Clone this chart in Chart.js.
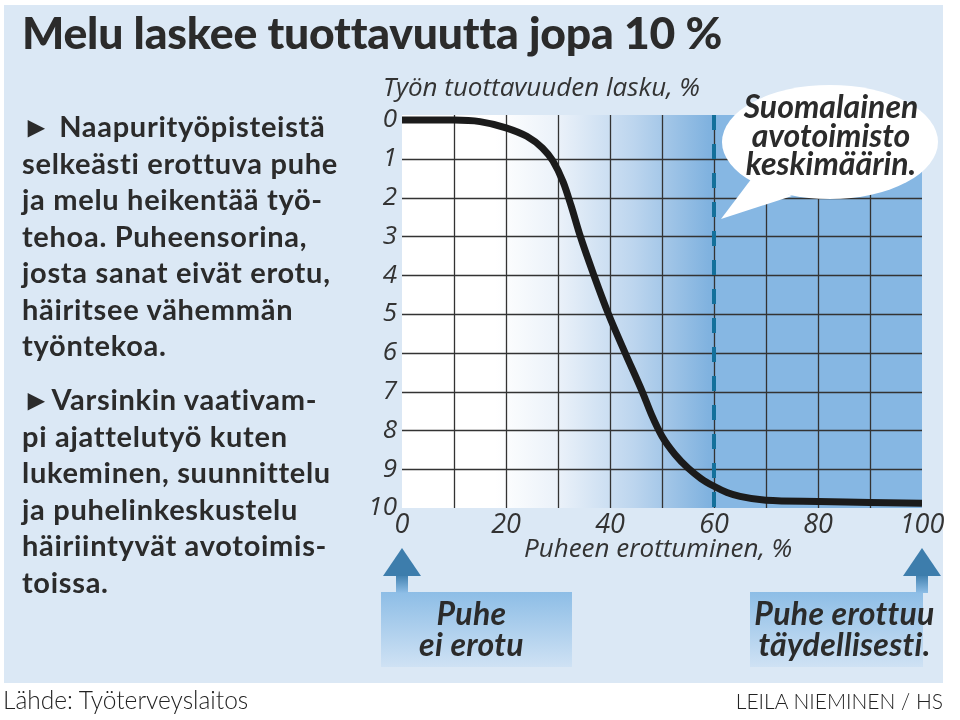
<!DOCTYPE html>
<html>
<head>
<meta charset="utf-8">
<script src="https://cdn.jsdelivr.net/npm/chart.js@4"></script>
<style>
  html, body { margin: 0; padding: 0; background: #fff; }
  #wrap { position: relative; width: 960px; height: 720px; overflow: hidden; font-family: "Lato", sans-serif; color: #2b2b2b; }
  #panel { position: absolute; left: 4px; top: 5px; width: 939px; height: 678px; background: #dbe8f5; }
  #chart { position: absolute; left: 0; top: 0; }
  #deco { position: absolute; left: 0; top: 0; }
  .t { position: absolute; white-space: nowrap; }
  #title { left: 22px; top: 5px; font-size: 44.5px; font-weight: 900; letter-spacing: -0.2px; }
  .body { left: 22px; font-size: 29px; font-weight: 700; line-height: 36.5px; letter-spacing: 0.7px; }
  .axis { font-family: "Open Sans", sans-serif; font-style: italic; font-size: 26px; font-weight: 400; color: #333; }
  .bub { font-size: 32px; font-weight: 700; font-style: italic; text-align: center; line-height: 28.5px; }
  .box { font-size: 32px; font-weight: 700; font-style: italic; text-align: center; line-height: 31px; letter-spacing: 0.3px; }
  .src { font-size: 24.5px; font-weight: 300; color: #222; }
</style>
</head>
<body>
<div id="wrap">
  <div id="panel"></div>
  <canvas id="chart" width="960" height="720"></canvas>
  <svg id="deco" width="960" height="720">
    <defs>
      <linearGradient id="boxGrad" x1="0" y1="0" x2="0" y2="1">
        <stop offset="0" stop-color="#8dbde6"/>
        <stop offset="1" stop-color="#cfe2f4"/>
      </linearGradient>
      <linearGradient id="shaftGrad" x1="0" y1="0" x2="0" y2="1">
        <stop offset="0" stop-color="#3d7dac"/>
        <stop offset="1" stop-color="#8dbde6"/>
      </linearGradient>
    </defs>
    <!-- speech bubble -->
    <path d="M 752 178 L 721 219 L 792 196 Z" fill="#fff"/>
    <ellipse cx="830" cy="142" rx="108" ry="57" fill="#fff"/>
    <!-- arrows and boxes -->
    <rect x="381" y="592" width="191" height="75" fill="url(#boxGrad)"/>
    <rect x="396" y="574" width="12" height="19" fill="url(#shaftGrad)"/>
    <path d="M 402 548 L 421 576 L 383 576 Z" fill="#3d7dac"/>
    <rect x="750" y="592" width="173" height="75" fill="url(#boxGrad)"/>
    <rect x="916" y="574" width="12" height="19" fill="url(#shaftGrad)"/>
    <path d="M 922 548 L 941 576 L 903 576 Z" fill="#3d7dac"/>
  </svg>

  <div class="t" id="title">Melu laskee tuottavuutta jopa 10 %</div>
  <div class="t body" style="top:108px">► Naapurityöpisteistä<br>selkeästi erottuva puhe<br>ja melu heikentää työ-<br>tehoa. Puheensorina,<br>josta sanat eivät erotu,<br>häiritsee vähemmän<br>työntekoa.</div>
  <div class="t body" style="top:381px">►Varsinkin vaativam-<br>pi ajattelutyö kuten<br>lukeminen, suunnittelu<br>ja puhelinkeskustelu<br>häiriintyvät avotoimis-<br>toissa.</div>

  <div class="t axis" style="left:383px; top:68px;">Työn tuottavuuden lasku, %</div>
  <div class="t axis" style="left:524px; top:529px;">Puheen erottuminen, %</div>

  <div class="t bub" style="left:726px; top:92px; width:210px;">Suomalainen<br>avotoimisto<br>keskimäärin.</div>
  <div class="t box" style="left:376px; top:597px; width:191px;">Puhe<br>ei erotu</div>
  <div class="t box" style="left:753px; top:597px; width:183px;">Puhe erottuu<br>täydellisesti.</div>

  <div class="t src" style="left:3px; top:685px;">Lähde: Työterveyslaitos</div>
  <div class="t src" style="right:17px; top:688px; font-size:21px;">LEILA NIEMINEN / HS</div>
</div>

<script>
// speech intelligibility (%) vs. drop in work productivity (%)
var speechPct = [0, 10, 15, 20, 24, 27, 29, 31, 32.5, 34.3, 36.9, 39.7, 42.9, 46.2, 48, 50, 52.5, 55, 57.5, 60, 62.5, 65, 70, 80, 90, 100];
var productivityDrop = [0, 0, 0.04, 0.2, 0.42, 0.72, 1.05, 1.6, 2.2, 3.0, 4.0, 5.0, 6.0, 7.0, 7.6, 8.15, 8.62, 8.97, 9.24, 9.44, 9.6, 9.7, 9.8, 9.83, 9.86, 9.88];
var officeAverage = 60;   // Finnish open office on average
var xTicks = [0, 10, 20, 30, 40, 50, 60, 70, 80, 90, 100];
var yTicks = [0, 1, 2, 3, 4, 5, 6, 7, 8, 9, 10];

var curve = speechPct.map(function (x, i) { return { x: x, y: productivityDrop[i] }; });

var plotBg = {
  id: 'plotBg',
  beforeDatasetsDraw: function (chart) {
    var a = chart.chartArea, xs = chart.scales.x, ctx = chart.ctx;
    var g = ctx.createLinearGradient(xs.getPixelForValue(18), 0, xs.getPixelForValue(59), 0);
    g.addColorStop(0, '#ffffff');
    g.addColorStop(0.3, '#eaf1f9');
    g.addColorStop(0.65, '#bcd5ee');
    g.addColorStop(1, '#80b2df');
    ctx.save();
    ctx.fillStyle = g;
    ctx.fillRect(a.left, a.top, xs.getPixelForValue(officeAverage) - a.left, a.bottom - a.top);
    ctx.fillStyle = '#86b7e3';
    ctx.fillRect(xs.getPixelForValue(officeAverage), a.top, a.right - xs.getPixelForValue(officeAverage), a.bottom - a.top);
    ctx.restore();
  }
};

// grid has to sit over the gradient, so draw it after the background
var gridOver = {
  id: 'gridOver',
  beforeDatasetsDraw: function (chart) {
    var a = chart.chartArea, xs = chart.scales.x, ys = chart.scales.y, ctx = chart.ctx;
    ctx.save();
    ctx.strokeStyle = '#333';
    ctx.lineWidth = 1.3;
    ctx.beginPath();
    xTicks.forEach(function (v) {
      if (v === 0 || v === 100) return;
      var px = Math.round(xs.getPixelForValue(v)) + 0.5;
      ctx.moveTo(px, a.top); ctx.lineTo(px, a.bottom);
    });
    yTicks.forEach(function (v) {
      if (v === 0 || v === 10) return;
      var py = Math.round(ys.getPixelForValue(v)) + 0.5;
      ctx.moveTo(a.left, py); ctx.lineTo(a.right, py);
    });
    ctx.stroke();
    ctx.restore();
  }
};

new Chart(document.getElementById('chart'), {
  type: 'scatter',
  data: {
    datasets: [{
      data: curve,
      showLine: true,
      borderColor: '#1b1b1b',
      borderWidth: 7,
      pointRadius: 0,
      cubicInterpolationMode: 'monotone',
      borderCapStyle: 'butt'
    }, {
      data: [{ x: officeAverage, y: -0.13 }, { x: officeAverage, y: 10 }],
      showLine: true,
      borderColor: '#14709b',
      borderWidth: 4,
      borderDash: [15, 14],
      pointRadius: 0
    }]
  },
  options: {
    responsive: false,
    animation: false,
    layout: { padding: { top: 115, right: 38, left: 0, bottom: 0 } },
    plugins: { legend: { display: false }, tooltip: { enabled: false } },
    scales: {
      x: {
        type: 'linear',
        min: 0,
        max: 100,
        afterBuildTicks: function (s) { s.ticks = xTicks.map(function (v) { return { value: v }; }); },
        afterFit: function (s) { s.height = 212; },
        grid: { display: false, drawTicks: false },
        border: { display: false },
        ticks: {
          autoSkip: false,
          maxRotation: 0,
          padding: 1,
          color: '#333',
          font: { family: 'Open Sans', style: 'italic', size: 27 },
          callback: function (v) { return v % 20 === 0 ? String(v) : ''; }
        }
      },
      y: {
        type: 'linear',
        reverse: true,
        min: -0.13,
        max: 10,
        afterBuildTicks: function (s) { s.ticks = yTicks.map(function (v) { return { value: v }; }); },
        afterFit: function (s) { s.width = 402; },
        grid: { display: false, drawTicks: false },
        border: { display: false },
        ticks: {
          autoSkip: false,
          padding: 5,
          color: '#333',
          font: { family: 'Open Sans', style: 'italic', size: 26 }
        }
      }
    }
  },
  plugins: [plotBg, gridOver]
});
</script>
</body>
</html>
